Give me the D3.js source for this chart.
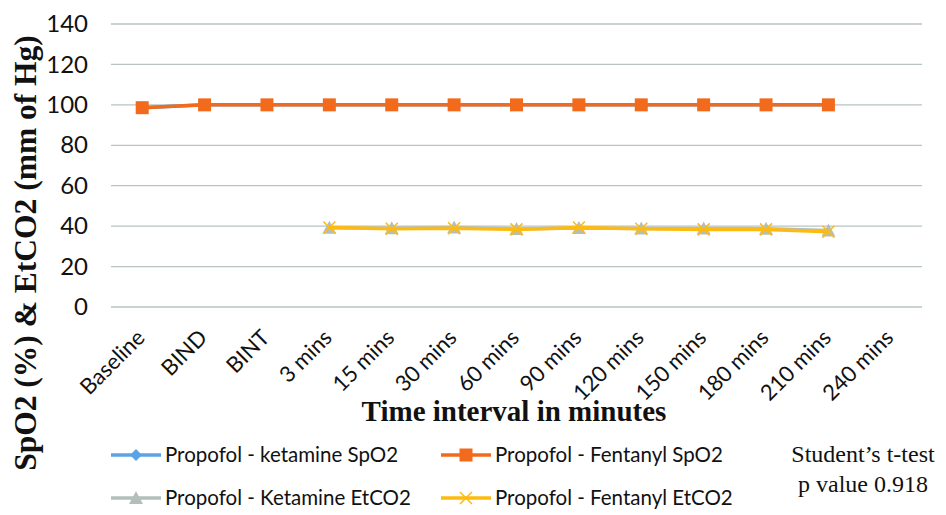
<!DOCTYPE html>
<html>
<head>
<meta charset="utf-8">
<script src="https://cdn.jsdelivr.net/npm/d3@7"></script>
<style>
  body { margin: 0; background: #fff; }
  svg { display: block; }
</style>
</head>
<body>
<svg id="chart" width="946" height="515"></svg>
<script>
// categories on the x axis
const categories = ["Baseline", "BIND", "BINT", "3 mins", "15 mins", "30 mins", "60 mins",
  "90 mins", "120 mins", "150 mins", "180 mins", "210 mins", "240 mins"];
const yTicks = [0, 20, 40, 60, 80, 100, 120, 140];

// series values (null = no reading)
const ketamineSpO2 = [98.6, 100, 100, 100, 100, 100, 100, 100, 100, 100, 100, 100, null];
const fentanylSpO2 = [98.6, 100, 100, 100, 100, 100, 100, 100, 100, 100, 100, 100, null];
const ketamineEtCO2 = [null, null, null, 39.2, 38.9, 39.3, 38.6, 39.1, 38.8, 38.8, 38.7, 37.8, null];
const fentanylEtCO2 = [null, null, null, 39.3, 38.7, 39.0, 38.4, 39.3, 38.7, 38.4, 38.4, 37.2, null];

const series = [
  { name: "Propofol - ketamine SpO2", values: ketamineSpO2, color: "#5ba3e6", shape: "diamond" },
  { name: "Propofol - Fentanyl SpO2", values: fentanylSpO2, color: "#f26b1d", shape: "square" },
  { name: "Propofol - Ketamine EtCO2", values: ketamineEtCO2, color: "#b4bfbd", shape: "triangle" },
  { name: "Propofol - Fentanyl EtCO2", values: fentanylEtCO2, color: "#fdbb12", shape: "cross" }
];

const svg = d3.select("#chart");
const margin = { left: 111, right: 922, top: 24, bottom: 307 };
const sans = "Lato, 'Open Sans', sans-serif";
const serif = "'Liberation Serif', serif";

const x = d3.scaleBand().domain(categories).range([margin.left, margin.right]);
const y = d3.scaleLinear().domain([0, 140]).range([margin.bottom, margin.top]);

// gridlines
svg.append("g")
  .selectAll("line")
  .data(yTicks)
  .enter()
  .append("line")
  .attr("x1", margin.left).attr("x2", margin.right)
  .attr("y1", d => y(d)).attr("y2", d => y(d))
  .attr("stroke", "#b9c4c2")
  .attr("stroke-width", 1.3);

// y axis labels
const yAxis = svg.append("g")
  .attr("transform", `translate(${margin.left},0)`)
  .call(d3.axisLeft(y).tickValues(yTicks).tickSize(0).tickPadding(23));
yAxis.select(".domain").remove();
yAxis.selectAll("text")
  .attr("font-family", sans)
  .attr("font-size", 24)
  .attr("fill", "#111");

// x axis labels
const xAxis = svg.append("g")
  .attr("transform", `translate(0,${margin.bottom})`)
  .call(d3.axisBottom(x).tickSize(0).tickPadding(0));
xAxis.select(".domain").remove();
xAxis.selectAll("text")
  .attr("font-family", sans)
  .attr("font-size", 22)
  .attr("fill", "#111")
  .attr("dy", 0)
  .attr("text-anchor", "end")
  .attr("transform", "translate(4,32) rotate(-45)");

// axis titles
svg.append("text")
  .attr("x", 514).attr("y", 421)
  .attr("text-anchor", "middle")
  .attr("font-family", serif)
  .attr("font-weight", "bold")
  .attr("font-size", 29)
  .attr("fill", "#111")
  .text("Time interval in minutes");

svg.append("text")
  .attr("transform", "translate(36,253) rotate(-90)")
  .attr("text-anchor", "middle")
  .attr("font-family", serif)
  .attr("font-weight", "bold")
  .attr("font-size", 31.5)
  .attr("fill", "#111")
  .text("SpO2 (%) & EtCO2 (mm of Hg)");

function drawMarker(g, shape, color, cx, cy) {
  if (shape === "diamond") {
    g.append("path").attr("d", `M${cx},${cy - 6}L${cx + 6},${cy}L${cx},${cy + 6}L${cx - 6},${cy}Z`).attr("fill", color);
  } else if (shape === "square") {
    g.append("rect").attr("x", cx - 6.5).attr("y", cy - 6.5).attr("width", 13).attr("height", 13).attr("fill", color);
  } else if (shape === "triangle") {
    g.append("path").attr("d", `M${cx},${cy - 7}L${cx + 7},${cy + 6}L${cx - 7},${cy + 6}Z`).attr("fill", color);
  } else if (shape === "cross") {
    g.append("path").attr("d", `M${cx - 6},${cy - 6}L${cx + 6},${cy + 6}M${cx - 6},${cy + 6}L${cx + 6},${cy - 6}`)
      .attr("stroke", color).attr("stroke-width", 1.5);
  }
}

const line = d3.line()
  .defined(d => d.v !== null)
  .x(d => x(d.c) + x.bandwidth() / 2)
  .y(d => y(d.v));

series.forEach(s => {
  const pts = categories.map((c, i) => ({ c: c, v: s.values[i] }));
  const g = svg.append("g");
  g.append("path")
    .datum(pts)
    .attr("d", line)
    .attr("fill", "none")
    .attr("stroke", s.color)
    .attr("stroke-width", 3.5);
  pts.filter(d => d.v !== null).forEach(d => {
    drawMarker(g, s.shape, s.color, x(d.c) + x.bandwidth() / 2, y(d.v));
  });
});

// legend
const legendPos = [[111, 455], [441, 455], [111, 498], [441, 498]];
series.forEach((s, i) => {
  const [lx, ly] = legendPos[i];
  const g = svg.append("g");
  g.append("line")
    .attr("x1", lx).attr("x2", lx + 50)
    .attr("y1", ly).attr("y2", ly)
    .attr("stroke", s.color).attr("stroke-width", 3.5);
  drawMarker(g, s.shape, s.color, lx + 25, ly);
  g.append("text")
    .attr("x", lx + 54).attr("y", ly + 7)
    .attr("font-family", sans)
    .attr("font-size", 20.5)
    .attr("fill", "#111")
    .text(s.name);
});

// test note
const note = svg.append("text")
  .attr("text-anchor", "middle")
  .attr("font-family", serif)
  .attr("font-size", 24)
  .attr("fill", "#111");
note.append("tspan").attr("x", 863).attr("y", 462).text("Student\u2019s t-test");
note.append("tspan").attr("x", 863).attr("y", 492).text("p value 0.918");
</script>
</body>
</html>
